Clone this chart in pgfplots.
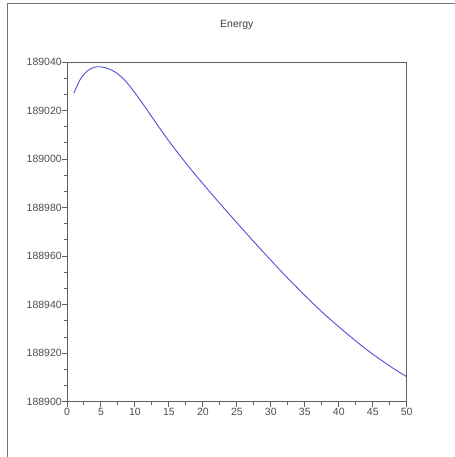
\documentclass[border=0pt]{standalone}
\usepackage{pgfplots}
\pgfplotsset{compat=1.18}
\usepackage{fontspec}
\setmainfont{Liberation Sans}

\definecolor{curve}{RGB}{80,80,215}
\definecolor{frame}{RGB}{95,95,95}

\begin{document}
\begin{tikzpicture}[x=1pt,y=1pt]
\useasboundingbox (-67,-55.3) rectangle (388,402);
% outer window frame
\draw[black!55, line width=1pt] (-59,-60) -- (-59,398) -- (392,398);
% y values stored as energy - 188900 to keep precision
\begin{axis}[
    at={(0,0)}, anchor=south west,
    scale only axis,
    width=340pt, height=340pt,
    xmin=0, xmax=50,
    ymin=0, ymax=140,
    xtick={0,5,...,50},
    ytick={0,20,...,140},
    yticklabels={188900,188920,188940,188960,188980,189000,189020,189040},
    minor x tick num=1,
    minor y tick num=2,
    tick align=outside,
    xtick pos=bottom,
    ytick pos=left,
    major tick length=5pt,
    minor tick length=3pt,
    axis line style={frame, line width=0.9pt},
    every tick/.style={frame, line width=0.9pt},
    /pgf/number format/assume math mode=true,
    tick label style={font=\fontsize{10.5}{12}\selectfont, text=black!70},
    xticklabel style={inner sep=0pt, yshift=-1pt},
    yticklabel style={inner sep=0pt},
    title={Energy},
    title style={at={(0.5,1)}, anchor=base, yshift=28pt, font=\fontsize{10.5}{12}\selectfont, text=black!75},
]
\addplot[curve, line width=0.9pt, smooth] coordinates {
(1,127.1) (2,133.0) (3,136.3) (4,137.8) (5,138.0)
(6,137.3) (7,136.0) (8,133.9) (9,130.9) (10,127.3)
(11,123.4) (12,119.4) (13,115.3) (14,111.3) (15,107.4)
(16,103.7) (17,100.1) (18,96.6) (19,93.2) (20,89.85)
(21,86.55) (22,83.3) (23,80.1) (24,76.9) (25,73.75)
(26,70.6) (27,67.5) (28,64.4) (29,61.35) (30,58.3)
(31,55.3) (32,52.35) (33,49.45) (34,46.6) (35,43.8)
(36,41.05) (37,38.4) (38,35.8) (39,33.3) (40,30.9)
(41,28.5) (42,26.2) (43,23.9) (44,21.7) (45,19.6)
(46,17.6) (47,15.7) (48,13.8) (49,12.0) (50,10.3)
};
\end{axis}
\end{tikzpicture}
\end{document}
